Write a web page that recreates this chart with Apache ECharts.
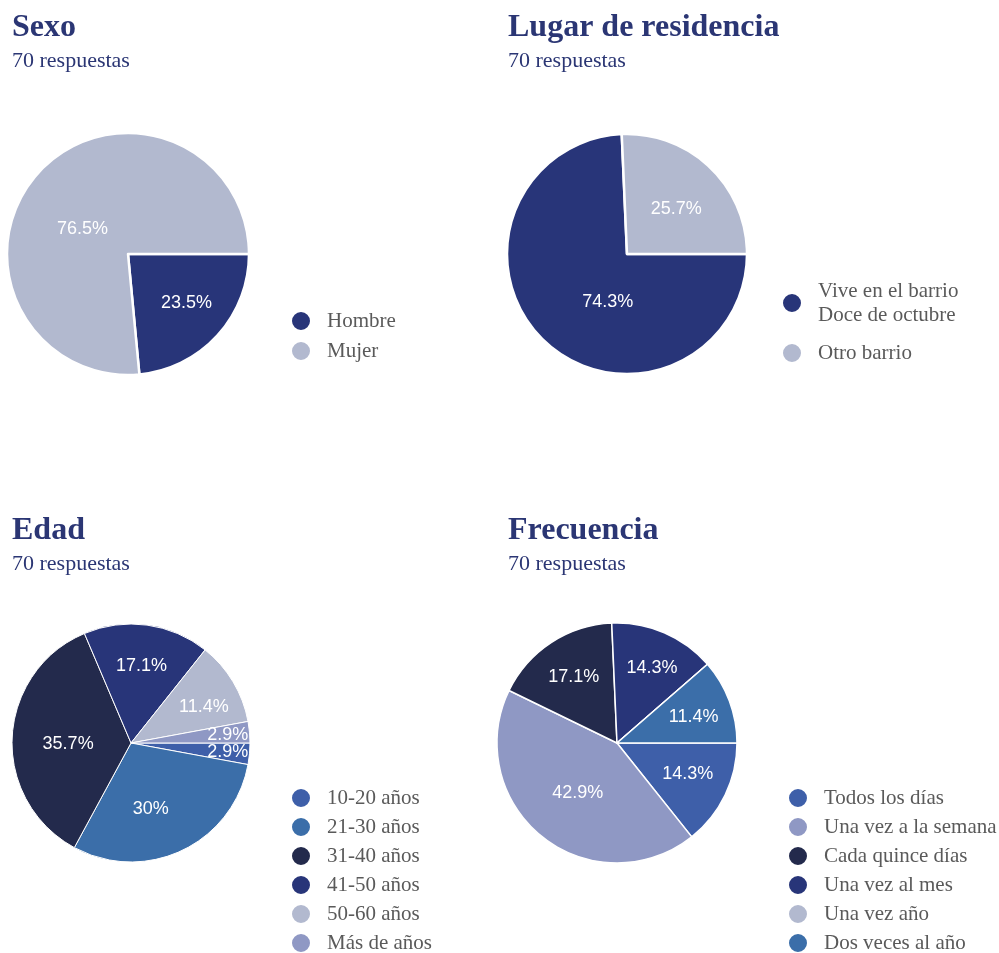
<!DOCTYPE html>
<html>
<head>
<meta charset="utf-8">
<script src="https://cdn.jsdelivr.net/npm/echarts@6/dist/echarts.min.js"></script>
<style>
  html, body { margin: 0; padding: 0; background: #ffffff; }
  #chart { width: 999px; height: 953px; }
</style>
</head>
<body>
<div id="chart"></div>
<script>
// Survey results: four pies, 70 responses each
const sexoNames = ['Hombre', 'Mujer'];
const sexoValues = [23.5, 76.5];

const residenciaNames = ['Vive en el barrio\nDoce de octubre', 'Otro barrio'];
const residenciaValues = [74.3, 25.7];

const edadNames = ['10-20 años', '21-30 años', '31-40 años', '41-50 años', '50-60 años', 'Más de años'];
const edadValues = [2.9, 30, 35.7, 17.1, 11.4, 2.9];

const frecuenciaNames = ['Todos los días', 'Una vez a la semana', 'Cada quince días', 'Una vez al mes', 'Una vez año', 'Dos veces al año'];
const frecuenciaValues = [14.3, 42.9, 17.1, 14.3, 0, 11.4];

const panelTitles = ['Sexo', 'Lugar de residencia', 'Edad', 'Frecuencia'];
const panelSubtitle = '70 respuestas';

// palette
const NAVY = '#283579';
const PALE = '#b2b9cf';
const BLUE = '#3e5fa9';
const STEEL = '#3b6ea9';
const INK = '#232a4c';
const LAVENDER = '#8f98c4';

const panels = [
  { names: sexoNames, values: sexoValues, colors: [NAVY, PALE],
    center: [128, 254], r: 121, border: 2.5, legend: { left: 290, top: 309, gap: 6 } },
  { names: residenciaNames, values: residenciaValues, colors: [NAVY, PALE],
    center: [627, 254], r: 120, border: 2.5, legend: { left: 781, top: 279, gap: 14 } },
  { names: edadNames, values: edadValues, colors: [BLUE, STEEL, INK, NAVY, PALE, LAVENDER],
    center: [131, 743], r: 119, border: 1, legend: { left: 290, top: 786, gap: 5 } },
  { names: frecuenciaNames, values: frecuenciaValues, colors: [BLUE, LAVENDER, INK, NAVY, PALE, STEEL],
    center: [617, 743], r: 120, border: 1.5, legend: { left: 787, top: 786, gap: 5 } }
];

// title anchor per panel
const titleAnchors = [[12, 11], [508, 11], [12, 514], [508, 514]];

// per-slice label nudges [dx, dy], by panel then slice
const labelNudges = [
  [[0, -4], [13, 28]],
  [[35, -9], [-5, 12]],
  [[19, 2], [-14, -4], [15, 5], [0, 0], [6, 4], [19, -1]],
  [[0, -3], [10, -11], [0, 0], [4, -3], [0, 0], [3, 2]]
];

function pct(v) { return v === 0 ? '' : v + '%'; }

const titles = panelTitles.map((t, i) => ({
  text: t,
  subtext: panelSubtitle,
  left: titleAnchors[i][0],
  top: titleAnchors[i][1],
  padding: 0,
  itemGap: 6,
  textStyle: { fontFamily: 'Liberation Serif', fontWeight: 'bold', fontSize: 32, lineHeight: 33, color: '#2b3674' },
  subtextStyle: { fontFamily: 'Liberation Serif', fontSize: 22, lineHeight: 22, color: '#2b3674' }
}));

const legends = panels.map(p => ({
  orient: 'vertical',
  left: p.legend.left,
  top: p.legend.top,
  height: 400,
  padding: 0,
  icon: 'circle',
  itemWidth: 20,
  itemHeight: 20,
  itemGap: p.legend.gap,
  selectedMode: false,
  data: p.names,
  textStyle: { fontFamily: 'Liberation Serif', fontSize: 21, lineHeight: 24, color: '#5a5a5a', padding: [0, 0, 0, 11] }
}));

const pies = panels.map(p => ({
  type: 'pie',
  center: p.center,
  radius: [0, p.r],
  startAngle: 0,
  clockwise: true,
  silent: true,
  label: { show: false },
  labelLine: { show: false },
  emphasis: { disabled: true },
  itemStyle: { borderColor: '#ffffff', borderWidth: p.border },
  data: p.names.map((n, i) => ({ name: n, value: p.values[i], itemStyle: { color: p.colors[i] } }))
}));

// transparent companion rings that carry the percentage labels further out
const labelRings = panels.map((p, k) => ({
  type: 'pie',
  center: p.center,
  radius: [0, p.r * 1.26],
  startAngle: 0,
  clockwise: true,
  silent: true,
  z: 5,
  emphasis: { disabled: true },
  itemStyle: { color: 'rgba(0,0,0,0)', borderWidth: 0 },
  labelLine: { show: false },
  label: {
    show: true,
    position: 'inside',
    formatter: prm => pct(prm.value),
    color: '#ffffff',
    fontFamily: 'Liberation Sans',
    fontSize: 18
  },
  labelLayout: prm => {
    const n = labelNudges[k][prm.dataIndex] || [0, 0];
    return { dx: n[0], dy: n[1], hideOverlap: false };
  },
  data: p.names.map((n, i) => ({ name: n, value: p.values[i] }))
}));

const chart = echarts.init(document.getElementById('chart'), null, { renderer: 'canvas' });
chart.setOption({
  backgroundColor: '#ffffff',
  animation: false,
  title: titles,
  legend: legends,
  series: pies.concat(labelRings)
});
</script>
</body>
</html>
